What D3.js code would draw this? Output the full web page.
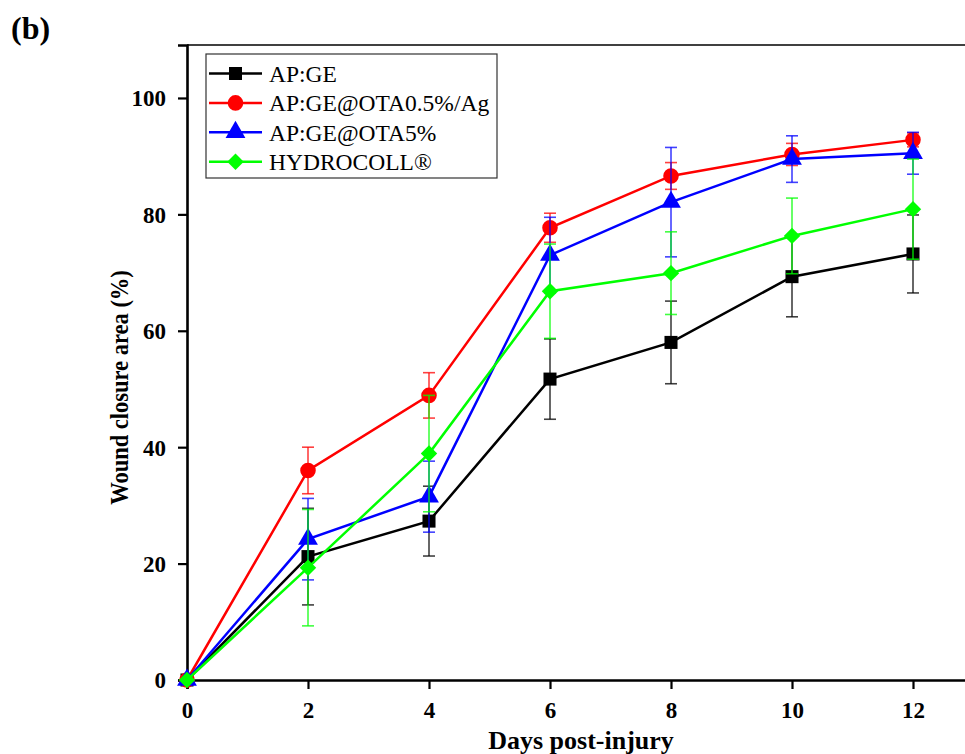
<!DOCTYPE html>
<html>
<head>
<meta charset="utf-8">
<script src="https://cdn.jsdelivr.net/npm/d3@7"></script>
<style>
  body { margin: 0; background: #fff; }
  svg { font-family: "Liberation Serif", "Times New Roman", serif; }
</style>
</head>
<body>
<svg id="chart"></svg>
<script>
// data
const days = [0, 2, 4, 6, 8, 10, 12]
const seriesNames = ["AP:GE", "AP:GE@OTA0.5%/Ag", "AP:GE@OTA5%", "HYDROCOLL®"]
const apge = [0, 21.2, 27.3, 51.7, 58.0, 69.3, 73.2]
const apgeErr = [0, 8.3, 6.0, 6.9, 7.1, 6.9, 6.7]
const apgeAg = [0, 36.0, 48.9, 77.7, 86.6, 90.3, 92.8]
const apgeAgErr = [0, 4.0, 3.9, 2.5, 2.3, 1.9, 1.2]
const apgeOta = [0, 24.2, 31.5, 73.0, 82.1, 89.5, 90.5]
const apgeOtaErr = [0, 7.0, 6.1, 6.5, 9.4, 4.0, 3.6]
const hydro = [0, 19.3, 38.9, 66.8, 69.9, 76.3, 80.9]
const hydroErr = [0, 10.0, 10.0, 8.1, 7.1, 6.5, 8.6]
const yTicks = [0, 20, 40, 60, 80, 100]
const xTicks = [0, 2, 4, 6, 8, 10, 12]

const colors = ["#000000", "#ff0000", "#0000ff", "#00ff00"]
// the diamond is a square turned 45 degrees
const shapes = [d3.symbolSquare, d3.symbolCircle, d3.symbolTriangle, d3.symbolSquare]
const turns = [0, 0, 0, 45]
const sizes = [170, 190, 170, 135]

const series = [apge, apgeAg, apgeOta, hydro].map((vals, i) => ({
    name: seriesNames[i],
    color: colors[i],
    shape: shapes[i],
    turn: turns[i],
    size: sizes[i],
    points: days.map((d, j) => ({ x: d, y: vals[j], e: [apgeErr, apgeAgErr, apgeOtaErr, hydroErr][i][j] }))
}))

const width = 965
const height = 754
const margin = { left: 187, top: 45, bottom: 74 }

const svg = d3.select("#chart")
    .attr("width", width)
    .attr("height", height)

const x = d3.scaleLinear().domain([0, 13]).range([margin.left, margin.left + 13 * 60.5])
const y = d3.scaleLinear().domain([0, 109.1]).range([height - margin.bottom, margin.top])

// top frame line
svg.append("line")
    .attr("x1", x(0)).attr("x2", width)
    .attr("y1", y(109.1)).attr("y2", y(109.1))
    .attr("stroke", "#000").attr("stroke-width", 1.5)

// axes
const xAxis = svg.append("g")
    .attr("transform", `translate(0,${y(0)})`)
    .call(d3.axisBottom(x).tickValues(xTicks).tickSize(9).tickPadding(13))
const yAxis = svg.append("g")
    .attr("transform", `translate(${x(0)},0)`)
    .call(d3.axisLeft(y).tickValues(yTicks).tickSize(9).tickPadding(12))

for (const ax of [xAxis, yAxis]) {
    ax.select(".domain").attr("stroke-width", 2.6)
    ax.selectAll(".tick line").attr("stroke-width", 2.2)
    ax.selectAll("text")
        .attr("font-family", "Liberation Serif")
        .attr("font-weight", "bold")
        .attr("font-size", 23)
}
yAxis.selectAll("text").attr("dy", "0.34em")

svg.append("text")
    .attr("x", 581).attr("y", 749)
    .attr("text-anchor", "middle")
    .attr("font-weight", "bold").attr("font-size", 26)
    .text("Days post-injury")

svg.append("text")
    .attr("transform", `translate(128,${(y(0) + y(109.1)) / 2 + 25}) scale(1.1,1) rotate(-90)`)
    .attr("text-anchor", "middle")
    .attr("font-weight", "bold").attr("font-size", 22.5)
    .text("Wound closure area (%)")

svg.append("text")
    .attr("x", 11).attr("y", 39)
    .attr("font-weight", "bold").attr("font-size", 32)
    .text("(b)")

const line = d3.line().x(d => x(d.x)).y(d => y(d.y))

series.forEach(s => {
    const g = svg.append("g")
    const eb = g.selectAll(".err")
        .data(s.points.filter(p => p.e > 0))
        .enter().append("g")
        .attr("stroke", s.color)
        .attr("stroke-opacity", 0.75)
        .attr("stroke-width", 1.6)
    eb.append("line")
        .attr("x1", d => x(d.x)).attr("x2", d => x(d.x))
        .attr("y1", d => y(d.y - d.e)).attr("y2", d => y(d.y + d.e))
    eb.append("line")
        .attr("x1", d => x(d.x) - 6).attr("x2", d => x(d.x) + 6)
        .attr("y1", d => y(d.y + d.e)).attr("y2", d => y(d.y + d.e))
    eb.append("line")
        .attr("x1", d => x(d.x) - 6).attr("x2", d => x(d.x) + 6)
        .attr("y1", d => y(d.y - d.e)).attr("y2", d => y(d.y - d.e))

    g.append("path")
        .datum(s.points)
        .attr("fill", "none")
        .attr("stroke", s.color)
        .attr("stroke-width", 2.5)
        .attr("d", line)

    g.selectAll(".pt")
        .data(s.points)
        .enter().append("path")
        .attr("transform", d => `translate(${x(d.x)},${y(d.y)}) rotate(${s.turn})`)
        .attr("d", d3.symbol().type(s.shape).size(s.size))
        .attr("fill", s.color)
})

// legend
const legend = svg.append("g")
legend.append("rect")
    .attr("x", 206).attr("y", 54)
    .attr("width", 291).attr("height", 124)
    .attr("fill", "#fff")
    .attr("stroke", "#333").attr("stroke-width", 1.2)

const items = legend.selectAll(".item")
    .data(series)
    .enter().append("g")
    .attr("transform", (d, i) => `translate(0,${73.5 + i * 29.4})`)
items.append("line")
    .attr("x1", 209).attr("x2", 262)
    .attr("stroke", d => d.color).attr("stroke-width", 2.5)
items.append("path")
    .attr("transform", d => `translate(235.5,0) rotate(${d.turn})`)
    .attr("d", d => d3.symbol().type(d.shape).size(d.size)())
    .attr("fill", d => d.color)
items.append("text")
    .attr("x", 269).attr("dy", "0.35em")
    .attr("font-size", 23.5)
    .text(d => d.name)
</script>
</body>
</html>
